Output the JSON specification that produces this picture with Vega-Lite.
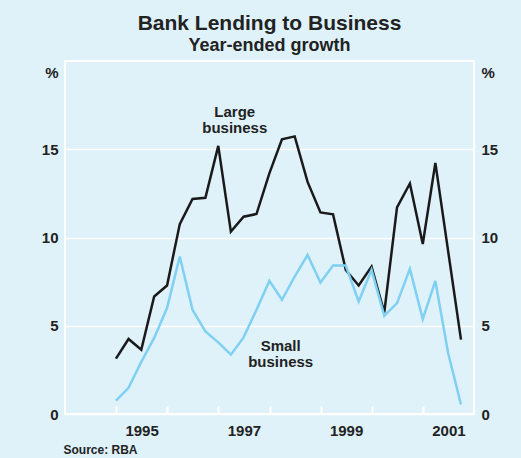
{
  "$schema": "https://vega.github.io/schema/vega-lite/v6.json",
  "width": 409,
  "height": 353,
  "autosize": {"type": "none"},
  "padding": {"left": 65, "top": 61, "right": 47, "bottom": 44},
  "background": "#dff2fa",
  "config": {
    "font": "Liberation Sans",
    "view": {"fill": "#dff2fa", "stroke": "#ffffff", "strokeWidth": 2},
    "axis": {"labelFont": "Liberation Sans", "labelFontWeight": "bold", "labelColor": "#222222", "labelFontSize": 15, "titleFont": "Liberation Sans", "titleFontWeight": "bold", "titleColor": "#222222", "titleFontSize": 15}
  },
  "title": {
    "text": "Bank Lending to Business",
    "subtitle": "Year-ended growth",
    "anchor": "middle",
    "font": "Liberation Sans",
    "subtitleFont": "Liberation Sans",
    "fontSize": 21,
    "subtitleFontSize": 18,
    "fontWeight": "bold",
    "subtitleFontWeight": "bold",
    "color": "#222222",
    "subtitleColor": "#222222",
    "subtitlePadding": 3,
    "offset": 6
  },
  "datasets": {
    "lending": [
      {"date": "1994-12-31", "series": "Large business", "value": 3.14},
      {"date": "1995-03-31", "series": "Large business", "value": 4.25},
      {"date": "1995-06-30", "series": "Large business", "value": 3.64},
      {"date": "1995-09-30", "series": "Large business", "value": 6.66},
      {"date": "1995-12-31", "series": "Large business", "value": 7.28},
      {"date": "1996-03-31", "series": "Large business", "value": 10.76},
      {"date": "1996-06-30", "series": "Large business", "value": 12.18},
      {"date": "1996-09-30", "series": "Large business", "value": 12.25},
      {"date": "1996-12-31", "series": "Large business", "value": 15.19},
      {"date": "1997-03-31", "series": "Large business", "value": 10.33},
      {"date": "1997-06-30", "series": "Large business", "value": 11.18},
      {"date": "1997-09-30", "series": "Large business", "value": 11.33},
      {"date": "1997-12-31", "series": "Large business", "value": 13.63},
      {"date": "1998-03-31", "series": "Large business", "value": 15.56},
      {"date": "1998-06-30", "series": "Large business", "value": 15.73},
      {"date": "1998-09-30", "series": "Large business", "value": 13.15},
      {"date": "1998-12-31", "series": "Large business", "value": 11.42},
      {"date": "1999-03-31", "series": "Large business", "value": 11.31},
      {"date": "1999-06-30", "series": "Large business", "value": 8.16},
      {"date": "1999-09-30", "series": "Large business", "value": 7.28},
      {"date": "1999-12-31", "series": "Large business", "value": 8.35},
      {"date": "2000-03-31", "series": "Large business", "value": 5.75},
      {"date": "2000-06-30", "series": "Large business", "value": 11.71},
      {"date": "2000-09-30", "series": "Large business", "value": 13.06},
      {"date": "2000-12-31", "series": "Large business", "value": 9.63},
      {"date": "2001-03-31", "series": "Large business", "value": 14.23},
      {"date": "2001-06-30", "series": "Large business", "value": 9.24},
      {"date": "2001-09-30", "series": "Large business", "value": 4.21},
      {"date": "1994-12-31", "series": "Small business", "value": 0.76},
      {"date": "1995-03-31", "series": "Small business", "value": 1.48},
      {"date": "1995-06-30", "series": "Small business", "value": 2.95},
      {"date": "1995-09-30", "series": "Small business", "value": 4.31},
      {"date": "1995-12-31", "series": "Small business", "value": 6.0},
      {"date": "1996-03-31", "series": "Small business", "value": 8.92},
      {"date": "1996-06-30", "series": "Small business", "value": 5.9},
      {"date": "1996-09-30", "series": "Small business", "value": 4.68},
      {"date": "1996-12-31", "series": "Small business", "value": 4.06},
      {"date": "1997-03-31", "series": "Small business", "value": 3.36},
      {"date": "1997-06-30", "series": "Small business", "value": 4.34},
      {"date": "1997-09-30", "series": "Small business", "value": 5.9},
      {"date": "1997-12-31", "series": "Small business", "value": 7.54},
      {"date": "1998-03-31", "series": "Small business", "value": 6.47},
      {"date": "1998-06-30", "series": "Small business", "value": 7.79},
      {"date": "1998-09-30", "series": "Small business", "value": 9.01},
      {"date": "1998-12-31", "series": "Small business", "value": 7.45},
      {"date": "1999-03-31", "series": "Small business", "value": 8.41},
      {"date": "1999-06-30", "series": "Small business", "value": 8.41},
      {"date": "1999-09-30", "series": "Small business", "value": 6.37},
      {"date": "1999-12-31", "series": "Small business", "value": 8.16},
      {"date": "2000-03-31", "series": "Small business", "value": 5.56},
      {"date": "2000-06-30", "series": "Small business", "value": 6.28},
      {"date": "2000-09-30", "series": "Small business", "value": 8.22},
      {"date": "2000-12-31", "series": "Small business", "value": 5.38},
      {"date": "2001-03-31", "series": "Small business", "value": 7.54},
      {"date": "2001-06-30", "series": "Small business", "value": 3.46},
      {"date": "2001-09-30", "series": "Small business", "value": 0.54}
    ],
    "labels": [
      {"date": "1997-04-28", "value": 17.09, "label": "Large|business"},
      {"date": "1998-03-22", "value": 3.83, "label": "Small|business"}
    ]
  },
  "layer": [
    {
      "data": {"name": "lending"},
      "transform": [{"filter": "datum.series == 'Large business'"}],
      "mark": {"type": "line", "color": "#1a1a1a", "strokeWidth": 2.5, "strokeJoin": "miter"},
      "encoding": {
        "x": {
          "field": "date", "type": "temporal",
          "scale": {"type": "utc", "domain": [{"year": 1994, "month": 1, "date": 1, "utc": true}, {"year": 2002, "month": 1, "date": 1, "utc": true}]},
          "axis": {
            "orient": "bottom",
            "values": [
              {"year": 1995, "month": 1, "date": 1, "utc": true},
              {"year": 1996, "month": 1, "date": 1, "utc": true},
              {"year": 1997, "month": 1, "date": 1, "utc": true},
              {"year": 1998, "month": 1, "date": 1, "utc": true},
              {"year": 1999, "month": 1, "date": 1, "utc": true},
              {"year": 2000, "month": 1, "date": 1, "utc": true},
              {"year": 2001, "month": 1, "date": 1, "utc": true}
            ],
            "labels": false, "domain": false, "grid": false,
            "ticks": true, "tickSize": -8, "tickColor": "#ffffff", "tickWidth": 2,
            "title": null
          }
        },
        "y": {
          "field": "value", "type": "quantitative",
          "scale": {"domain": [0, 20], "nice": false, "zero": true},
          "axis": {
            "orient": "left", "values": [0, 5, 10, 15],
            "grid": true, "gridColor": "#ffffff", "gridWidth": 1.5,
            "domain": false, "ticks": false, "labelPadding": 7,
            "title": "%", "titleAngle": 0, "titleAlign": "right", "titleBaseline": "middle",
            "titleX": -7, "titleY": 11
          }
        }
      }
    },
    {
      "data": {"name": "lending"},
      "transform": [{"filter": "datum.series == 'Small business'"}],
      "mark": {"type": "line", "color": "#7fd0f2", "strokeWidth": 2.5, "strokeJoin": "miter"},
      "encoding": {
        "x": {
          "field": "date", "type": "temporal",
          "scale": {"type": "utc", "domain": [{"year": 1994, "month": 1, "date": 1, "utc": true}, {"year": 2002, "month": 1, "date": 1, "utc": true}]},
          "axis": {
            "orient": "bottom",
            "values": [
              {"year": 1995, "month": 7, "date": 2, "utc": true},
              {"year": 1997, "month": 7, "date": 2, "utc": true},
              {"year": 1999, "month": 7, "date": 2, "utc": true},
              {"year": 2001, "month": 7, "date": 2, "utc": true}
            ],
            "labelExpr": "utcFormat(datum.value, '%Y')",
            "labels": true, "domain": false, "grid": false, "ticks": false,
            "labelPadding": 9,
            "title": "Source: RBA", "titleFontSize": 12, "titleAnchor": "start", "titleAlign": "left",
            "titleBaseline": "middle", "titleX": -2, "titleY": 35
          }
        },
        "y": {
          "field": "value", "type": "quantitative",
          "scale": {"domain": [0, 20], "nice": false, "zero": true},
          "axis": {
            "orient": "right", "values": [0, 5, 10, 15],
            "grid": false, "domain": false, "ticks": false, "labelPadding": 7,
            "title": "%", "titleAngle": 0, "titleAlign": "left", "titleBaseline": "middle",
            "titleX": 7, "titleY": 11
          }
        }
      }
    },
    {
      "data": {"name": "labels"},
      "mark": {"type": "text", "font": "Liberation Sans", "fontWeight": "bold", "fontSize": 15, "color": "#222222", "align": "center", "baseline": "middle", "lineBreak": "|", "lineHeight": 16},
      "encoding": {
        "x": {"field": "date", "type": "temporal", "scale": {"type": "utc"}, "axis": null},
        "y": {"field": "value", "type": "quantitative", "axis": null},
        "text": {"field": "label", "type": "nominal"}
      }
    }
  ],
  "resolve": {"axis": {"x": "independent", "y": "independent"}}
}
